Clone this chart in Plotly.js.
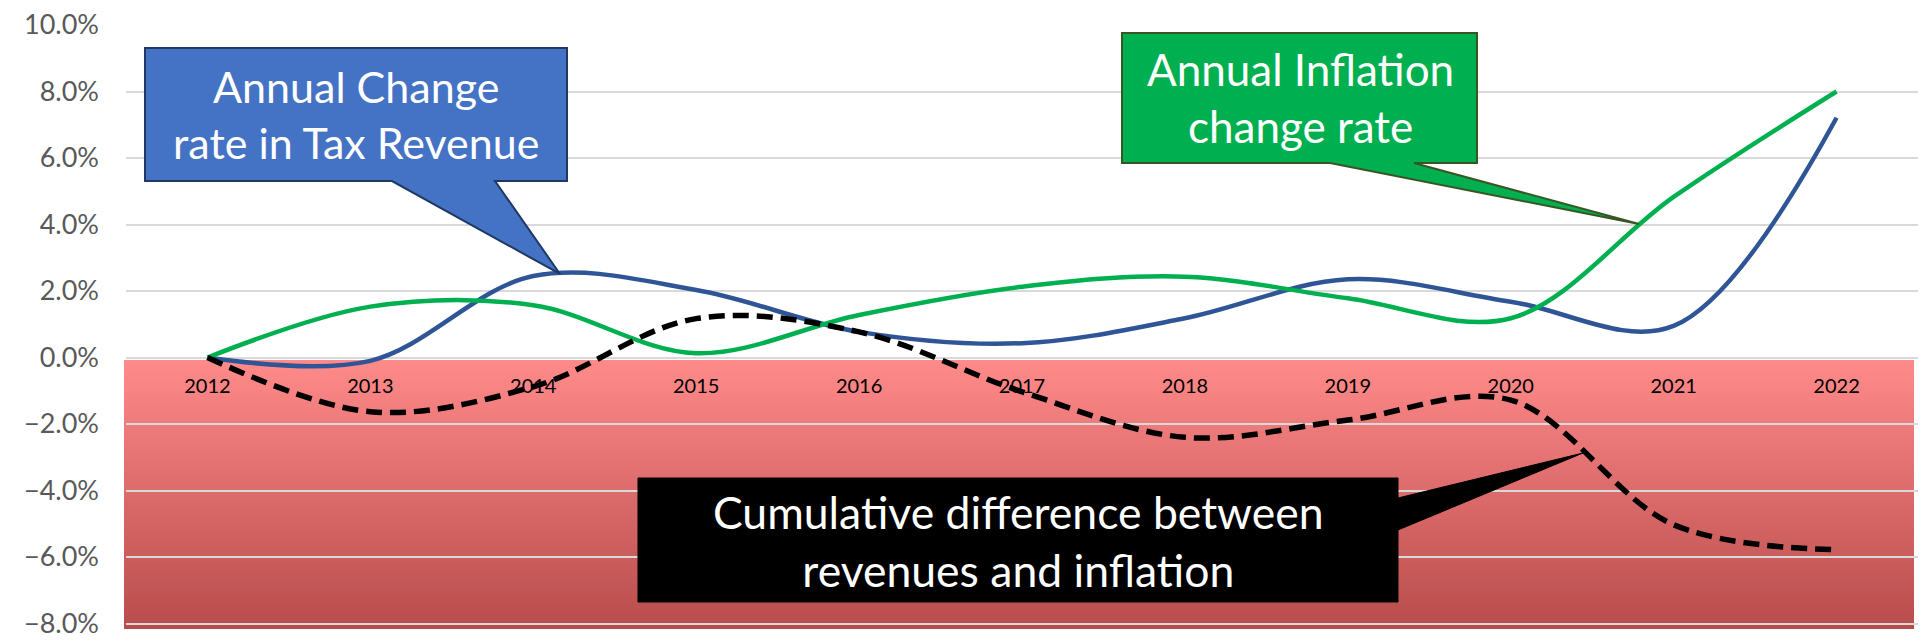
<!DOCTYPE html>
<html>
<head>
<meta charset="utf-8">
<script src="https://cdn.plot.ly/plotly-3.0.1.min.js"></script>
<style>
  html, body { margin: 0; padding: 0; background: #ffffff; }
  #chart { width: 1921px; height: 642px; }
</style>
</head>
<body>
<div id="chart"></div>
<script>
// ---- data ----
const years = ['2012', '2013', '2014', '2015', '2016', '2017', '2018', '2019', '2020', '2021', '2022'];
const taxRevenueChange = [0.0000, -0.0010, 0.0245, 0.0203, 0.0077, 0.0043, 0.0118, 0.0235, 0.0168, 0.0095, 0.0721];
const inflationChange  = [0.0000, 0.0153, 0.0157, 0.0013, 0.0128, 0.0213, 0.0243, 0.0178, 0.0118, 0.0483, 0.0800];
const cumulativeDiff   = [0.0000, -0.0163, -0.0088, 0.0117, 0.0077, -0.0103, -0.0240, -0.0188, -0.0128, -0.0503, -0.0578];
const yTickVals = [-0.08, -0.06, -0.04, -0.02, 0, 0.02, 0.04, 0.06, 0.08, 0.10];

const calloutTax = 'Annual Change<br>rate in Tax Revenue';
const calloutInflation = 'Annual Inflation<br>change rate';
const calloutCumulative = 'Cumulative difference between<br>revenues and inflation';

(function () {
  // ---- layout geometry ----
  const W = 1921, H = 642;
  const M = { l: 126, r: 3, t: 25, b: 13 };
  const PW = W - M.l - M.r, PH = H - M.t - M.b;
  const yRange = [-0.08165, 0.10];
  const px = v => (v - M.l) / PW;          // pixel x -> paper
  const py = v => (H - M.b - v) / PH;      // pixel y -> paper
  const FONT = "Lato, 'Open Sans', 'Liberation Sans', sans-serif";

  function pathFrom(points) {
    return 'M ' + points.map(p => px(p[0]).toFixed(5) + ',' + py(p[1]).toFixed(5)).join(' L ') + ' Z';
  }

  // ---- gradient background for the negative region ----
  // bands drawn darkest first; each band reaches up to the top so no seams show
  const shapes = [];
  const N = 120;
  const bandTop = -0.00075, bandBottom = yRange[0];
  const cTop = [255, 138, 138], cBot = [184, 76, 76];
  for (let i = N - 1; i >= 0; i--) {
    const y0 = bandTop - (bandTop - bandBottom) * (i + 1) / N;
    const t = (i + 0.5) / N;
    const c = cTop.map((a, k) => Math.round(a + (cBot[k] - a) * t));
    shapes.push({
      type: 'rect', layer: 'below', xref: 'paper', yref: 'y',
      x0: px(124), x1: px(1914), y0: y0, y1: bandTop,
      fillcolor: 'rgb(' + c.join(',') + ')', line: { width: 0 }
    });
  }

  // ---- callouts ----
  shapes.push({
    type: 'path', layer: 'above', xref: 'paper', yref: 'paper',
    path: pathFrom([[145, 48], [567, 48], [567, 181], [495, 181], [560, 274], [392, 181], [145, 181]]),
    fillcolor: '#4472C4', line: { color: '#1F3864', width: 2 }
  });
  shapes.push({
    type: 'path', layer: 'above', xref: 'paper', yref: 'paper',
    path: pathFrom([[1122, 33], [1477, 33], [1477, 163], [1414, 163], [1639, 224], [1330, 163], [1122, 163]]),
    fillcolor: '#00B050', line: { color: '#375623', width: 2 }
  });
  shapes.push({
    type: 'path', layer: 'above', xref: 'paper', yref: 'paper',
    path: pathFrom([[638, 478], [1398, 478], [1398, 498], [1583, 453], [1398, 530], [1398, 602], [638, 602]]),
    fillcolor: '#000000', line: { color: '#000000', width: 1 }
  });

  const annotations = [
    { text: calloutTax, x: px(356), y: py(114), size: 43 },
    { text: calloutInflation, x: px(1300), y: py(97), size: 44 },
    { text: calloutCumulative, x: px(1018), y: py(540), size: 44.5 }
  ].map(a => ({
    xref: 'paper', yref: 'paper', x: a.x, y: a.y, xanchor: 'center', yanchor: 'middle',
    text: a.text, showarrow: false, align: 'center',
    font: { family: FONT, size: a.size, color: '#ffffff' }
  }));

  // ---- traces ----
  const traces = [
    {
      x: years, y: taxRevenueChange, type: 'scatter', mode: 'lines', name: 'Tax revenue change',
      line: { color: '#2F5597', width: 4.5, shape: 'spline', smoothing: 1 }
    },
    {
      x: years, y: inflationChange, type: 'scatter', mode: 'lines', name: 'Inflation change',
      line: { color: '#00B050', width: 4.5, shape: 'spline', smoothing: 1 }
    },
    {
      x: years, y: cumulativeDiff, type: 'scatter', mode: 'lines', name: 'Cumulative difference',
      line: { color: '#000000', width: 5.5, dash: '16px,8px', shape: 'spline', smoothing: 1 }
    }
  ];

  const layout = {
    width: W, height: H,
    margin: M,
    paper_bgcolor: '#ffffff', plot_bgcolor: 'rgba(0,0,0,0)',
    showlegend: false, hovermode: false,
    xaxis: {
      type: 'category', categoryorder: 'array', categoryarray: years,
      range: [-0.5, years.length - 0.5],
      anchor: 'free', position: (0 - yRange[0]) / (yRange[1] - yRange[0]),
      showgrid: false, zeroline: false, showline: false, ticks: '',
      ticklabelstandoff: 14,
      tickfont: { family: FONT, size: 20, color: '#000000' },
      fixedrange: true
    },
    yaxis: {
      range: yRange, tickvals: yTickVals, tickformat: '.1%',
      showgrid: true, gridcolor: '#D9D9D9', gridwidth: 2,
      zeroline: false, showline: false, ticks: '',
      ticklabelstandoff: 26,
      tickfont: { family: FONT, size: 27, color: '#595959' },
      fixedrange: true
    },
    shapes: shapes,
    annotations: annotations
  };

  Plotly.newPlot('chart', traces, layout, { displayModeBar: false, staticPlot: true });
})();
</script>
</body>
</html>
